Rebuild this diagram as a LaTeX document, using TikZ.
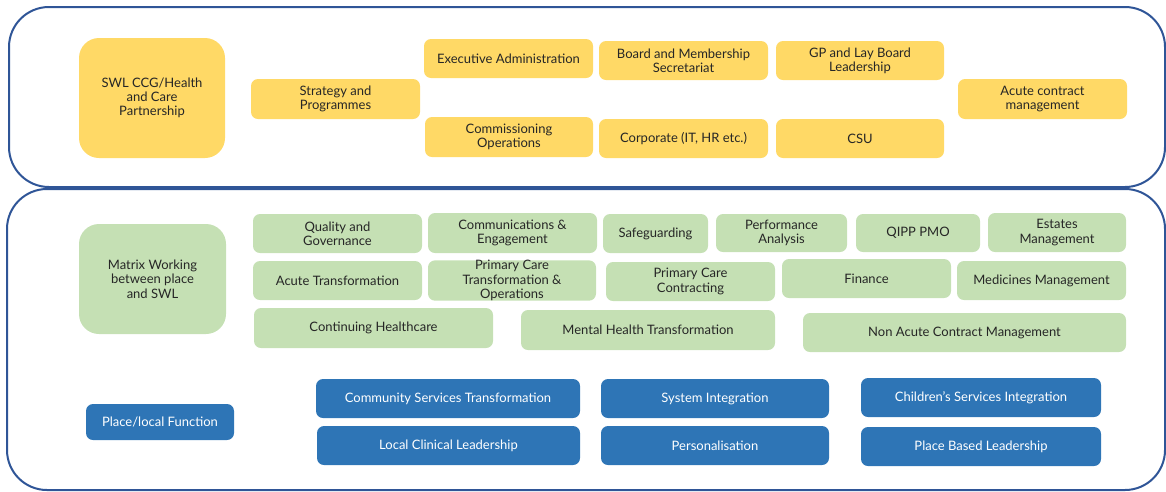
\documentclass[tikz,border=0pt]{standalone}
\usepackage{fontspec}
\setmainfont{Lato}
\definecolor{frameblue}{HTML}{2F5597}
\definecolor{yfill}{HTML}{FFD966}
\definecolor{gfill}{HTML}{C5E0B4}
\definecolor{bfill}{HTML}{2E75B6}
\definecolor{txt}{HTML}{262626}
\newcommand{\bx}[7]{\node[#2, minimum width={(#5-#3)*1pt}, minimum height={(#6-#4)*1pt}] (#1) at ({(#3+#5)/2},{(#4+#6)/2}) {#7};}
\begin{document}
\begin{tikzpicture}[x=1pt,y=-1pt,
  frame/.style={draw=frameblue, line width=2pt, rounded corners=40pt},
  basebox/.style={rounded corners=7pt, inner xsep=0pt, inner ysep=0pt, align=center, font=\fontsize{13}{14.3}\selectfont},
  ybox/.style={basebox, fill=yfill, text=txt},
  gbox/.style={basebox, fill=gfill, text=txt},
  bbox/.style={basebox, fill=bfill, text=white},
  bigbox/.style={rounded corners=20pt}]
\useasboundingbox (0,0) rectangle (1166,491);
\draw[frame] (9,7) rectangle (1165,187);
\draw[frame] (7,189) rectangle (1165,490);
% yellow
\bx{swl}{ybox,bigbox}{79}{38}{225}{158}{SWL CCG/Health\\and Care\\Partnership}
\bx{strat}{ybox}{251}{79}{420}{119}{Strategy and\\Programmes}
\bx{exec}{ybox}{424}{39}{593}{78}{Executive Administration}
\bx{board}{ybox}{599}{41}{768}{80}{Board and Membership\\Secretariat}
\bx{gp}{ybox}{776}{41}{944}{80}{GP and Lay Board\\Leadership}
\bx{acute}{ybox}{958}{79}{1127}{119}{Acute contract\\management}
\bx{comm}{ybox}{425}{117}{593}{157}{Commissioning\\Operations}
\bx{corp}{ybox}{599}{119}{768}{158}{Corporate (IT, HR etc.)}
\bx{csu}{ybox}{776}{119}{944}{158}{CSU}
% green
\bx{matrix}{gbox,bigbox}{79}{224}{226}{334}{Matrix Working\\between place\\and SWL}
\bx{qual}{gbox}{253}{214}{422}{253}{Quality and\\Governance}
\bx{comms}{gbox}{428}{213}{597}{253}{Communications \&\\Engagement}
\bx{safe}{gbox}{603}{214}{708}{253}{Safeguarding}
\bx{perf}{gbox}{716}{214}{847}{252}{Performance\\Analysis}
\bx{qipp}{gbox}{856}{214}{980}{252}{QIPP PMO}
\bx{estates}{gbox}{988}{213}{1126}{252}{Estates\\Management}
\bx{acutet}{gbox}{253}{261}{422}{300}{Acute Transformation}
\bx{pcto}{gbox}{428}{261}{596}{300}{Primary Care\\Transformation \&\\Operations}
\bx{pcc}{gbox}{606}{262}{775}{301}{Primary Care\\Contracting}
\bx{fin}{gbox}{782}{259}{951}{298}{Finance}
\bx{med}{gbox}{957}{261}{1126}{300}{Medicines Management}
\bx{chc}{gbox}{254}{308}{493}{348}{Continuing Healthcare}
\bx{mht}{gbox}{521}{310}{775}{350}{Mental Health Transformation}
\bx{nacm}{gbox}{803}{313}{1126}{352}{Non Acute Contract Management}
% blue
\bx{place}{bbox}{86}{404}{234}{440}{Place/local Function}
\bx{cst}{bbox}{316}{379}{580}{418}{Community Services Transformation}
\bx{lcl}{bbox}{317}{426}{580}{465}{Local Clinical Leadership}
\bx{si}{bbox}{601}{379}{829}{418}{System Integration}
\bx{pers}{bbox}{601}{426}{829}{465}{Personalisation}
\bx{csi}{bbox}{861}{378}{1101}{417}{Children’s Services Integration}
\bx{pbl}{bbox}{861}{427}{1101}{466}{Place Based Leadership}
\end{tikzpicture}
\end{document}
